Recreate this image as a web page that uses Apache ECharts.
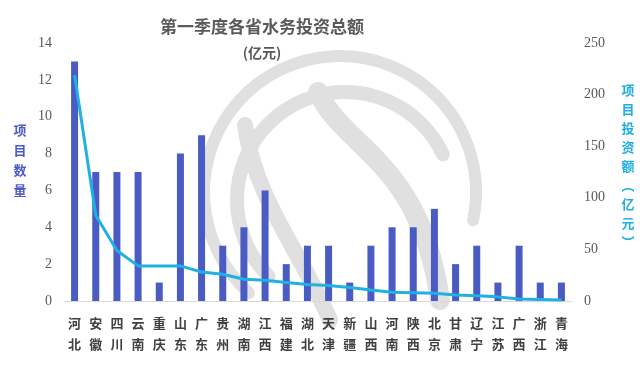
<!DOCTYPE html>
<html><head><meta charset="utf-8">
<script src="https://cdn.jsdelivr.net/npm/echarts@6/dist/echarts.min.js"></script>
<style>html,body{margin:0;padding:0;background:#fff}#c{width:640px;height:365px}</style>
</head><body><div id="c"></div>
<script>
const provinces = ['河北','安徽','四川','云南','重庆','山东','广东','贵州','湖南','江西','福建','湖北','天津','新疆','山西','河南','陕西','北京','甘肃','辽宁','江苏','广西','浙江','青海'];
const projectCount = [13,7,7,7,1,8,9,3,4,6,2,3,3,1,3,4,4,5,2,3,1,3,1,1];
const investment = [219,83,49,34,34,34,28,26,21,20,18,16,15,13,10.6,8.4,8,7.4,5.8,5,4,2,1.5,1];
const leftTicks = [0,2,4,6,8,10,12,14];
const rightTicks = [0,50,100,150,200,250];

const deg = Math.PI/180;
const wm = '#e0e0e0';
const chart = echarts.init(document.getElementById('c'));
chart.setOption({
  animation:false,
  backgroundColor:'#fff',
  graphic:[
    {type:'arc', z:-5, shape:{cx:340, cy:192, r:136, startAngle:132*deg, endAngle:372*deg}, style:{fill:null, stroke:wm, lineWidth:12, lineCap:'round'}},
    {type:'arc', z:-5, shape:{cx:345, cy:200, r:108, startAngle:135*deg, endAngle:335*deg}, style:{fill:null, stroke:wm, lineWidth:14, lineCap:'round'}},
    {type:'bezierCurve', z:-5, shape:{x1:318, y1:92, cpx1:345, cpy1:150, cpx2:420, cpy2:160, x2:440, y2:300}, style:{fill:null, stroke:wm, lineWidth:20, lineCap:'round'}},
    {type:'bezierCurve', z:-5, shape:{x1:245, y1:125, cpx1:255, cpy1:200, cpx2:300, cpy2:250, x2:330, y2:320}, style:{fill:null, stroke:wm, lineWidth:16, lineCap:'round'}},
    {type:'text', style:{text:'第一季度各省水务投资总额', x:262, y:27, textAlign:'center', textVerticalAlign:'middle', font:'bold 17px "Noto Sans CJK SC"', fill:'#595959'}},
    {type:'text', style:{text:'(亿元)', x:262, y:53, textAlign:'center', textVerticalAlign:'middle', font:'bold 14px "Noto Sans CJK SC"', fill:'#595959'}},
    {type:'text', style:{text:'项\n目\n数\n量', x:20, y:160, textAlign:'center', textVerticalAlign:'middle', font:'bold 13px "Noto Sans CJK SC"', lineHeight:20, fill:'#4A5BC4'}},
    {type:'text', style:{text:'项\n目\n投\n资\n额\n︵\n亿\n元\n︶', x:628, y:166, textAlign:'center', textVerticalAlign:'middle', font:'bold 13px "Noto Sans CJK SC"', lineHeight:19, fill:'#1FAEE0'}}
  ],
  grid:{left:64, right:68, top:43, bottom:64},
  xAxis:{
    type:'category', data:provinces,
    axisLine:{lineStyle:{color:'#d9d9d9'}},
    axisTick:{show:false},
    axisLabel:{interval:0, formatter:v=>v.split('').join('\n'), color:'#404040', fontSize:13, fontWeight:'bold', fontFamily:'"Noto Sans CJK SC"', lineHeight:21, margin:12}
  },
  yAxis:[
    {type:'value', min:0, max:14, interval:2, splitLine:{show:false}, axisLine:{show:false}, axisTick:{show:false},
     axisLabel:{color:'#595959', fontSize:14, fontFamily:'"Liberation Serif"', margin:12}},
    {type:'value', min:0, max:250, interval:50, splitLine:{show:false}, axisLine:{show:false}, axisTick:{show:false},
     axisLabel:{color:'#595959', fontSize:14, fontFamily:'"Liberation Serif"', margin:12}}
  ],
  series:[
    {type:'bar', data:projectCount, yAxisIndex:0, barWidth:7, itemStyle:{color:'#4A5BC4'}},
    {type:'line', data:investment, yAxisIndex:1, showSymbol:false, symbol:'none', lineStyle:{color:'#1FB0E6', width:3}, itemStyle:{color:'#1FB0E6'}, z:3}
  ]
});
</script></body></html>
